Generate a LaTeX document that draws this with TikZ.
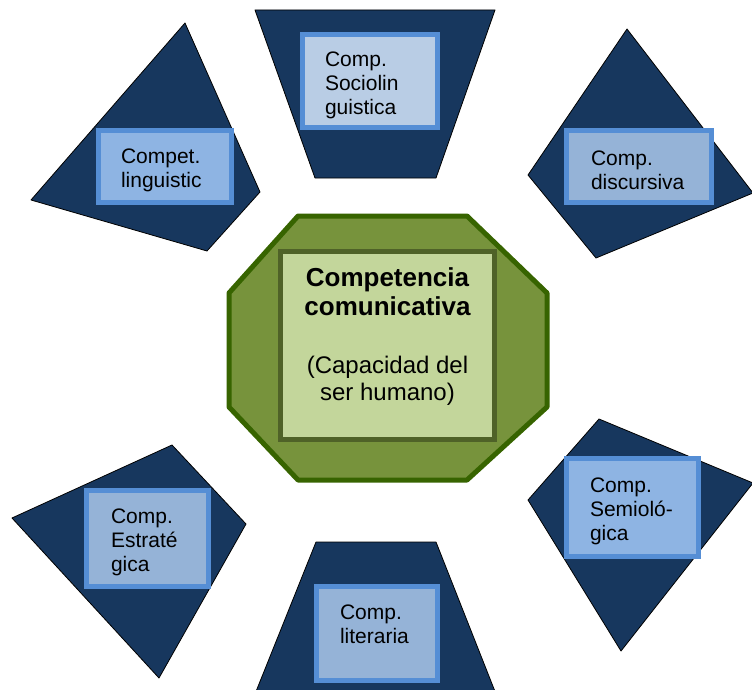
\documentclass[tikz,border=0pt]{standalone}
\usepackage{fontspec}
\setmainfont{Liberation Sans}
\usetikzlibrary{positioning}
\definecolor{navy}{RGB}{23,55,94}
\definecolor{boxedge}{RGB}{85,142,213}
\definecolor{palefill}{RGB}{185,205,229}
\definecolor{midfill}{RGB}{149,179,215}
\definecolor{brightfill}{RGB}{142,180,227}
\definecolor{octofill}{RGB}{119,147,60}
\definecolor{octoedge}{RGB}{55,100,0}
\definecolor{corefill}{RGB}{195,214,155}
\definecolor{coreedge}{RGB}{79,98,40}
\tikzset{
  kite/.style={fill=navy, draw=black, line width=0.8pt, line join=round},
  compbox/.style={draw=boxedge, line width=4.5pt, inner sep=0pt, align=left,
    text height=23pt, font=\fontsize{21}{24}\selectfont},
  octo/.style={fill=octofill, draw=octoedge, line width=5pt, line join=round},
}
\begin{document}
\begin{tikzpicture}[x=1pt, y=-1pt]
\useasboundingbox (0,0) rectangle (752,690);

\draw[kite] (185,23) -- (260,192) -- (207,251) -- (31,200) -- cycle;
\draw[kite] (255,10) -- (495,10) -- (436,178) -- (315,178) -- cycle;
\draw[kite] (627,29) -- (753,193) -- (596,258) -- (528,175) -- cycle;
\draw[kite] (172,445) -- (246,524) -- (159,678) -- (12,518) -- cycle;
\draw[kite] (316,542) -- (436,542) -- (496,694) -- (255,694) -- cycle;
\draw[kite] (599,419) -- (753,483) -- (621,651) -- (528,500) -- cycle;

\node[compbox, fill=brightfill, minimum width=133pt, minimum height=72pt, text width=88pt] (ling) at (165,166.5) {Compet.\\linguistic};
\node[compbox, fill=palefill, minimum width=135pt, minimum height=93pt, text width=90pt] (socio) at (370,81) {Comp.\\Sociolin\\guistica};
\node[compbox, fill=midfill, minimum width=145pt, minimum height=72pt, text width=96pt] (disc) at (639,166.5) {Comp.\\discursiva};
\node[compbox, fill=midfill, minimum width=122pt, minimum height=96pt, text width=73pt] (estrat) at (147.5,538.5) {Comp.\\Estraté\\gica};
\node[compbox, fill=midfill, minimum width=121pt, minimum height=94pt, text width=74pt, text depth=52pt] (lit) at (377,633.5) {Comp.\\literaria};
\node[compbox, fill=brightfill, minimum width=132pt, minimum height=98pt, text width=85pt] (semio) at (632.5,507.5) {Comp.\\Semioló-\\gica};

\draw[octo] (298,216) -- (467,216) -- (547,293) -- (547,407) -- (467,480) -- (298,480) -- (229,407) -- (229,293) -- cycle;
\node[fill=corefill, draw=coreedge, line width=5pt, minimum width=214pt, minimum height=188pt] (core) at (387.5,345.5) {};
\node[below=18pt of core.north, inner sep=0pt, align=center, font=\fontsize{26}{29}\selectfont\bfseries] (title) {Competencia\\comunicativa};
\node[below=40pt of title, inner sep=0pt, align=center, font=\fontsize{24}{27}\selectfont] (note) {(Capacidad del\\ser humano)};

\end{tikzpicture}
\end{document}
